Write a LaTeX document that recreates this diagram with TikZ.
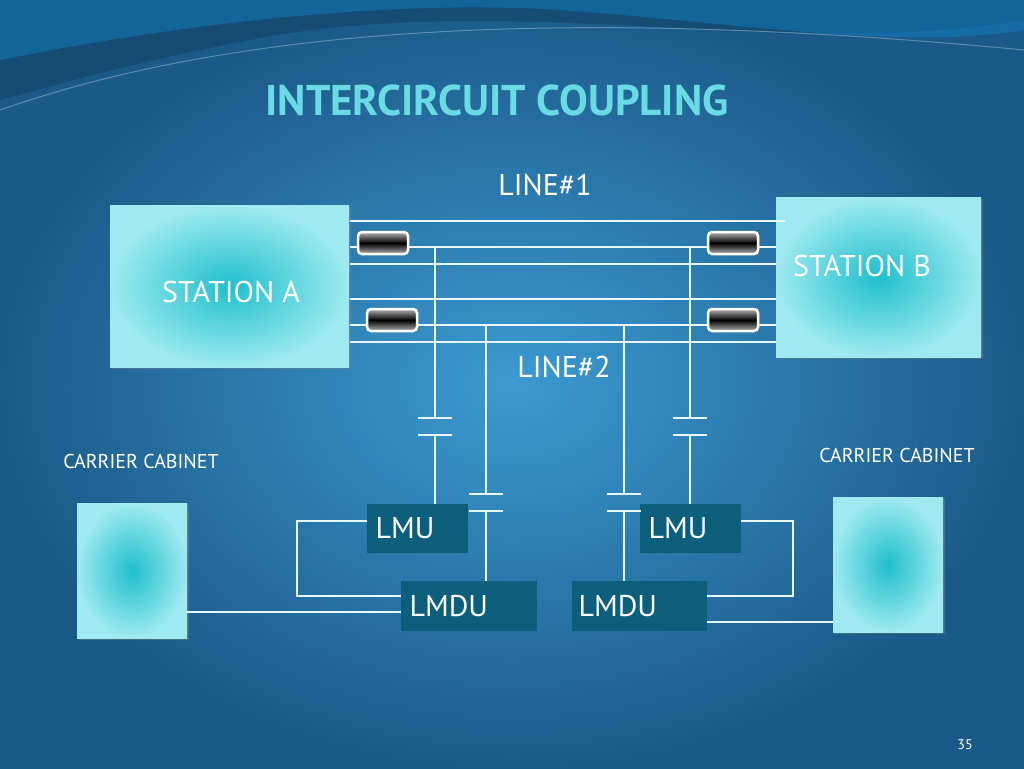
\documentclass[tikz,border=0pt]{standalone}
\usepackage{fontspec}
\setmainfont{PT Sans}
\usetikzlibrary{shadows}
\definecolor{bgc}{HTML}{3C9AD2}
\definecolor{bge}{HTML}{1B5A88}
\definecolor{cyc}{HTML}{1FBFCC}
\definecolor{cye}{HTML}{9EEAF0}
\definecolor{lm}{HTML}{0B5F7C}
\definecolor{tt}{HTML}{6ADBE4}
\begin{document}
\begin{tikzpicture}[x=1pt,y=-1pt,
  box/.style={inner color=cyc,outer color=cye,draw=none,drop shadow={shadow xshift=2pt,shadow yshift=-2pt,opacity=.4}},
  unit/.style={fill=lm,text=white,anchor=north west,inner sep=0pt},
  wire/.style={draw=white!90!cyan,line width=1.3pt},
  fuse/.style={draw=white,line width=2.5pt,rounded corners=4pt,top color=gray!60,bottom color=gray!60,middle color=black},
  lbl/.style={text=white,font=\fontsize{30}{32}\selectfont},
  sm/.style={text=white,font=\fontsize{20}{22}\selectfont}]
\useasboundingbox (0,0) rectangle (1024,768);
\fill[inner color=bgc,outer color=bge] (0,0) rectangle (1024,768);
% top waves
\fill[bge!70!black,opacity=.5] (0,0) -- (1024,0) -- (1024,20) .. controls (800,60) and (500,-10) .. (250,40) .. controls (120,65) and (40,90) .. (0,100) -- cycle;
\fill[cyan!70!blue,opacity=.4] (0,60) .. controls (200,20) and (400,0) .. (560,10) .. controls (760,25) and (900,50) .. (1024,30) -- (1024,0) -- (0,0) -- cycle;
\draw[white,opacity=.3,line width=1pt] (0,110) .. controls (200,40) and (500,0) .. (1024,50);
\node[text=tt,font=\bfseries\fontsize{43}{45}\selectfont] (title) at (497,100) {INTERCIRCUIT COUPLING};
% stations
\node[box,minimum width=239pt,minimum height=162pt,anchor=north west] (sa) at (110,205) {};
\node[box,minimum width=205pt,minimum height=160pt,anchor=north west] (sb) at (776,197) {};
\node[lbl] at (231,292) {STATION A};
\node[lbl] at (862,266) {STATION B};
\node[lbl] at (545,185) {LINE\#1};
\node[lbl] at (564,367) {LINE\#2};
% lines
\draw[wire] (350,221) -- (785,221);
\foreach \y in {247,264,299,325,342} \draw[wire] (350,\y) -- (776,\y);
\node[fuse,minimum width=50pt,minimum height=22pt] (f1) at (383,243) {};
\node[fuse,minimum width=50pt,minimum height=22pt] (f2) at (392,320) {};
\node[fuse,minimum width=50pt,minimum height=22pt] (f3) at (733,243) {};
\node[fuse,minimum width=50pt,minimum height=22pt] (f4) at (733,320) {};
% units
\node[unit,minimum width=101pt,minimum height=49pt] (lmu1) at (367,504) {};
\node[anchor=west,lbl] at (372,528) {LMU};
\node[unit,minimum width=136pt,minimum height=50pt] (lmdu1) at (401,581) {};
\node[anchor=west,lbl] at (406,606) {LMDU};
\node[unit,minimum width=101pt,minimum height=49pt] (lmu2) at (640,504) {};
\node[anchor=west,lbl] at (645,528) {LMU};
\node[unit,minimum width=135pt,minimum height=50pt] (lmdu2) at (572,581) {};
\node[anchor=west,lbl] at (575,606) {LMDU};
% cabinets
\node[box,minimum width=110pt,minimum height=135pt,anchor=north west] (c1) at (77,503) {};
\node[box,minimum width=110pt,minimum height=135pt,anchor=north west] (c2) at (833,497) {};
\node[sm] at (141,461) {CARRIER CABINET};
\node[sm] at (897,455) {CARRIER CABINET};
% coupling capacitors
\foreach \x/\yt/\ca/\yb in {435/247/418/504, 690/247/418/504, 486/325/494/581, 624/325/494/581}{
  \draw[wire] (\x,\yt) -- (\x,\ca);
  \draw[wire] (\x-17,\ca) -- (\x+17,\ca);
  \draw[wire] (\x-17,\ca+17) -- (\x+17,\ca+17);
  \draw[wire] (\x,\ca+17) -- (\x,\yb);
}
\draw[wire] (lmu1.west |- 0,521) -- (297,521) -- (297,596) -- (lmdu1.west |- 0,596);
\draw[wire] (lmu2.east |- 0,521) -- (793,521) -- (793,596) -- (lmdu2.east |- 0,596);
\draw[wire] (c1.east |- 0,612) -- (lmdu1.west |- 0,612);
\draw[wire] (lmdu2.east |- 0,622) -- (c2.west |- 0,622);
\node[text=white,font=\fontsize{14}{15}\selectfont] at (965,745) {35};
\end{tikzpicture}
\end{document}
